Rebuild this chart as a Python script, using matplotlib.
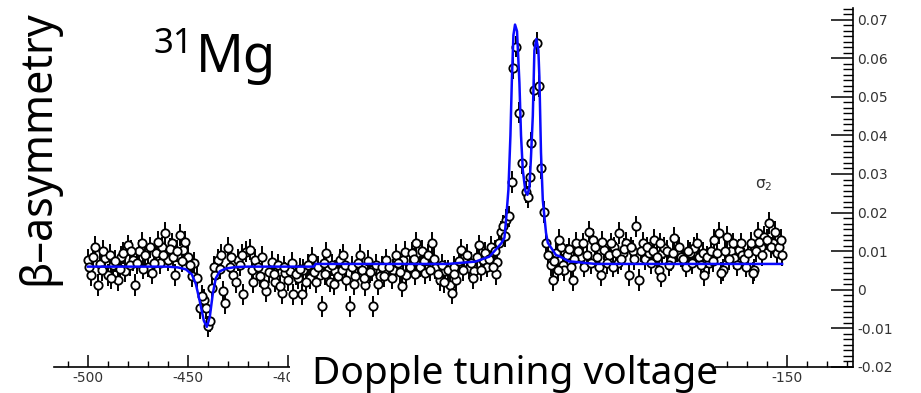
import matplotlib
matplotlib.use("Agg")
import matplotlib.pyplot as plt
from matplotlib.patches import Rectangle
from matplotlib.ticker import MultipleLocator, AutoMinorLocator, FormatStrFormatter

plt.rcParams["axes.unicode_minus"] = False

# measured beta-asymmetry vs. Doppler tuning voltage (V)
voltage = [
    -500, -498.5, -496.5, -495, -494, -491.5, -490, -487.5, -485, -483.5,
    -481.5, -480, -477.5, -476.5, -474.5, -473, -471.5, -470, -468, -466,
    -464, -463, -461.5, -460, -458, -456.5, -454, -452.5, -450, -448,
    -447, -444, -442, -440.7, -440, -439, -438, -436.5, -435, -432.5,
    -431.5, -430, -427.5, -425, -422.5, -420.7, -419, -416.5, -414, -410.7,
    -408, -406.5, -403, -401.5, -399, -397.3, -395, -393, -392.3, -389,
    -388, -384, -383, -380.7, -379, -376.5, -374, -372.3, -370.7, -369,
    -366.5, -364, -361.5, -358, -357.3, -354, -350.7, -347.3, -343, -342.3,
    -341.5, -340.7, -338, -335.7, -334, -331.5, -328, -326.5, -324, -321.5,
    -319, -318, -315.7, -313, -311.5, -309, -306.5, -304, -302.3, -300,
    -298, -295.5, -295, -293, -290.7, -289,
    -287.5, -287.3, -285.7, -284.3, -282.7, -280.7, -279.8, -278.7, -278.2, -276.5,
    -275.3, -274, -273.2, -271.8,
    -270.7, -268, -267.3, -265.7, -263, -262.3, -261.5, -257.3, -255.7, -253,
    -251.5, -249, -247.3, -244, -243, -241.5, -239, -236.5, -234.8, -234,
    -232, -230.7, -229, -227, -225.7, -224, -222.3, -221, -219, -216.5,
    -214, -213, -212.5, -211.5, -208, -206.5, -205, -203, -200.7, -198.5,
    -196.5, -194, -191.5, -189, -186.5, -184, -182.3, -180, -178, -176.5,
    -174, -172.5, -170.7, -168, -166.5, -164.8, -163, -161.5, -159, -157.3,
    -155, -152.5,
    -499.5, -497.5, -493, -492.5, -489, -488.5, -486.5, -484, -482.5, -479,
    -478.5, -475.5, -472.5, -469, -467, -465, -462.5, -459, -457.5, -455.5,
    -453, -451.5, -449, -445.5, -443, -437, -434, -433.5, -429, -428.5,
    -426, -424, -423, -418, -417.5, -415, -413, -412, -409.5, -407,
    -405, -404, -402, -400, -398, -396, -394, -391, -390, -387,
    -386, -385, -382, -381.5, -378, -377, -375, -373, -371.5, -368,
    -367, -365, -363, -362, -360, -359, -356, -355, -353, -352,
    -349.5, -348, -346, -345, -344, -339, -337, -336.5, -333, -332,
    -330, -329, -327, -325, -323, -322, -320, -317, -316.5, -314,
    -312, -310, -308, -307, -305, -303, -301, -299, -297, -296,
    -294, -292, -291,
    -269.5, -266.5, -264.5, -264, -260, -259, -258, -256.5, -254.5, -252,
    -250, -248, -246, -245, -242.5, -240, -238, -237, -235.5, -233,
    -231.5, -228, -226.5, -223, -220, -218, -217, -215, -213.5, -210,
    -209, -207, -204, -202, -199.5, -197.5, -195, -193, -192, -190,
    -188, -187, -185, -183, -181, -179, -177, -175, -173, -171.5,
    -169.5, -167.3, -165.5, -164, -162.5, -160, -158, -156, -154, -153,
]
asymmetry = [
    0.0077, 0.0038, 0.0112, 0.0012, 0.0067, 0.0083, 0.0038, 0.0064, 0.0026, 0.0086,
    0.0048, 0.0115, 0.0077, 0.0012, 0.0101, 0.0121, 0.0090, 0.0060, 0.0043, 0.0096,
    0.0070, 0.0110, 0.0147, 0.0077, 0.0120, 0.0038, 0.0142, 0.0104, 0.0086, 0.0035,
    0.0069, -0.0047, -0.0026, -0.0047, -0.0095, -0.0082, 0.0005, 0.0038, 0.0077, -0.0004,
    -0.0035, 0.0108, 0.0038, 0.0077, -0.0012, 0.0099, 0.0104, 0.0077, 0.0035, -0.0004,
    0.0073, 0.0021, -0.0009, 0.0043, 0.0048, -0.0012, 0.0030, -0.0012, 0.0052, 0.0030,
    0.0083, 0.0038, -0.0043, 0.0096, 0.0021, 0.0048, 0.0077, 0.0090, 0.0026, -0.0043,
    0.0035, 0.0090, 0.0012, 0.0052, -0.0043, 0.0035, 0.0077, 0.0052, 0.0009, 0.0077,
    0.0099, 0.0038, 0.0096, 0.0121, 0.0060, 0.0043, 0.0121, 0.0057, 0.0026, 0.0048,
    0.0012, -0.0009, 0.0026, 0.0104, 0.0083, 0.0057, 0.0048, 0.0115, 0.0077, 0.0060,
    0.0112, 0.0040, 0.0073, 0.0151, 0.0182, 0.0190,
    0.0280, 0.0575, 0.0630, 0.0459, 0.0329, 0.0254, 0.0241, 0.0293, 0.0381, 0.0518,
    0.0640, 0.0528, 0.0316, 0.0202,
    0.0121, 0.0064, 0.0026, 0.0096, 0.0112, 0.0065, 0.0052, 0.0026, 0.0121, 0.0086,
    0.0060, 0.0151, 0.0130, 0.0060, 0.0039, 0.0104, 0.0090, 0.0110, 0.0069, 0.0147,
    0.0095, 0.0121, 0.0038, 0.0100, 0.0164, 0.0026, 0.0121, 0.0080, 0.0095, 0.0130,
    0.0052, 0.0034, 0.0095, 0.0108, 0.0077, 0.0134, 0.0100, 0.0086, 0.0060, 0.0095,
    0.0108, 0.0086, 0.0038, 0.0069, 0.0130, 0.0147, 0.0052, 0.0138, 0.0100, 0.0082,
    0.0104, 0.0090, 0.0060, 0.0121, 0.0052, 0.0147, 0.0110, 0.0138, 0.0173, 0.0121,
    0.0095, 0.0090,
    0.0060, 0.0085, 0.0050, 0.0100, 0.0090, 0.0030, 0.0075, 0.0055, 0.0095, 0.0065,
    0.0100, 0.0070, 0.0055, 0.0110, 0.0070, 0.0125, 0.0090, 0.0105, 0.0085, 0.0100,
    0.0075, 0.0125, 0.0065, 0.0030, -0.0015, 0.0060, 0.0055, 0.0090, 0.0060, 0.0085,
    0.0020, 0.0065, 0.0090, 0.0050, 0.0020, 0.0060, 0.0085, 0.0015, 0.0045, 0.0040,
    0.0065, 0.0010, 0.0060, 0.0025, 0.0070, 0.0040, 0.0055, 0.0020, 0.0065, 0.0045,
    0.0020, 0.0060, 0.0070, 0.0040, 0.0065, 0.0015, 0.0035, 0.0050, 0.0065, 0.0060,
    0.0015, 0.0070, 0.0050, 0.0030, 0.0075, 0.0045, 0.0065, 0.0015, 0.0060, 0.0035,
    0.0060, 0.0030, 0.0090, 0.0070, 0.0045, 0.0060, 0.0080, 0.0040, 0.0100, 0.0075,
    0.0090, 0.0050, 0.0080, 0.0040, 0.0065, 0.0020, 0.0050, 0.0060, 0.0040, 0.0075,
    0.0050, 0.0090, 0.0070, 0.0030, 0.0085, 0.0050, 0.0095, 0.0080, 0.0060, 0.0100,
    0.0120, 0.0165, 0.0140,
    0.0090, 0.0075, 0.0050, 0.0130, 0.0090, 0.0105, 0.0060, 0.0080, 0.0100, 0.0120,
    0.0090, 0.0070, 0.0110, 0.0085, 0.0125, 0.0070, 0.0120, 0.0060, 0.0095, 0.0080,
    0.0105, 0.0110, 0.0080, 0.0100, 0.0110, 0.0070, 0.0100, 0.0085, 0.0120, 0.0100,
    0.0065, 0.0095, 0.0110, 0.0080, 0.0100, 0.0070, 0.0120, 0.0065, 0.0095, 0.0085,
    0.0100, 0.0075, 0.0095, 0.0043, 0.0100, 0.0080, 0.0120, 0.0065, 0.0120, 0.0080,
    0.0095, 0.0043, 0.0100, 0.0125, 0.0090, 0.0130, 0.0110, 0.0150, 0.0110, 0.0130,
]
asym_err = 0.0028
volt_err = 1.5

# fitted hyperfine spectrum
fit_voltage = [
    -500, -460, -455, -451, -448, -446, -444, -442, -440.5, -439,
    -437.5, -436, -434, -431, -426, -420, -387, -386, -320, -306,
    -299, -295, -293, -291.5, -290.7, -289.5, -288.5, -287.8, -287, -286.2,
    -285.2, -284, -283.2, -282.3, -281, -280, -279, -278.2, -277.3, -276.5,
    -275.5, -274.5, -274, -273.2, -272.3, -270.7, -269.8, -265.7, -264, -259,
    -257.5, -246, -152.5,
]
fit_asymmetry = [
    0.0060, 0.0060, 0.0058, 0.0053, 0.0040, 0.0015, -0.0030, -0.0080, -0.0096, -0.0070,
    -0.0010, 0.0030, 0.0048, 0.0055, 0.0059, 0.0060, 0.0060, 0.0067, 0.0067, 0.0073,
    0.0086, 0.0109, 0.0121, 0.0135, 0.0180, 0.0260, 0.0400, 0.0540, 0.0660, 0.0687,
    0.0670, 0.0536, 0.0400, 0.0310, 0.0255, 0.0246, 0.0265, 0.0345, 0.0450, 0.0620,
    0.0650, 0.0620, 0.0550, 0.0355, 0.0233, 0.0148, 0.0122, 0.0090, 0.0087, 0.0073,
    0.0073, 0.0067, 0.0067,
]

W, H = 921, 393
fig = plt.figure(figsize=(W / 100, H / 100), dpi=100)
ax = fig.add_axes([54 / W, 1 - 367 / H, 799 / W, 359 / H])

ax.errorbar(voltage, asymmetry, yerr=asym_err, xerr=volt_err, fmt="o",
            ms=6, mfc="white", mec="black", mew=1.3, ecolor="black",
            elinewidth=1.4, capsize=0, zorder=2)
ax.plot(fit_voltage, fit_asymmetry, color="#0a0aff", lw=1.8, zorder=3)

ax.set_xlim(-517, -117)
ax.set_ylim(-0.02, 0.073)

for side in ("left", "top"):
    ax.spines[side].set_visible(False)
ax.spines["bottom"].set_linewidth(1.2)
ax.spines["right"].set_linewidth(1.2)

ax.yaxis.tick_right()
ax.xaxis.set_major_locator(MultipleLocator(50))
ax.xaxis.set_minor_locator(MultipleLocator(10))
ax.yaxis.set_major_locator(MultipleLocator(0.01))
ax.yaxis.set_minor_locator(AutoMinorLocator(7))
ax.yaxis.set_major_formatter(FormatStrFormatter("%g"))
ax.xaxis.set_major_formatter(FormatStrFormatter("%g"))
ax.tick_params(axis="x", which="major", direction="in", length=9, width=1.1,
               labelsize=10, labelcolor="#333333", pad=3)
ax.tick_params(axis="x", which="minor", direction="in", length=4, width=1.0)
ax.tick_params(axis="y", which="major", direction="in", length=16, width=1.1,
               labelsize=10, labelcolor="#333333", pad=3, right=True, left=False)
ax.tick_params(axis="y", which="minor", direction="in", length=7, width=1.0,
               right=True, left=False)

# labels sitting under the caption box are left out
fig.canvas.draw()
for tick, lab in zip(ax.get_xticks(), ax.get_xticklabels()):
    if -375 < tick < -175:
        lab.set_visible(False)

ax.text(-161.5, 0.0272, "σ$_2$", fontsize=11, color="#333333",
        ha="center", va="center")

# slide annotations on top of the plot
fig.patches.append(Rectangle((290 / W, 0), 425 / W, 1 - 337 / H,
                             transform=fig.transFigure, facecolor="white",
                             edgecolor="none", zorder=5))
fig.text(515 / W, 1 - 384 / H, "Dopple tuning voltage", fontsize=28,
         family="Noto Sans", ha="center", va="baseline", zorder=6)
fig.text(38 / W, 1 - 148 / H, "β–asymmetry", fontsize=31, family="Noto Sans",
         rotation=90, ha="center", va="center", zorder=6)
fig.text(153 / W, 1 - 53 / H, "31", fontsize=25, family="Noto Sans",
         ha="left", va="baseline", zorder=6)
fig.text(196 / W, 1 - 72 / H, "Mg", fontsize=38, family="Noto Sans",
         ha="left", va="baseline", zorder=6)

fig.savefig("out.png", dpi=100)
